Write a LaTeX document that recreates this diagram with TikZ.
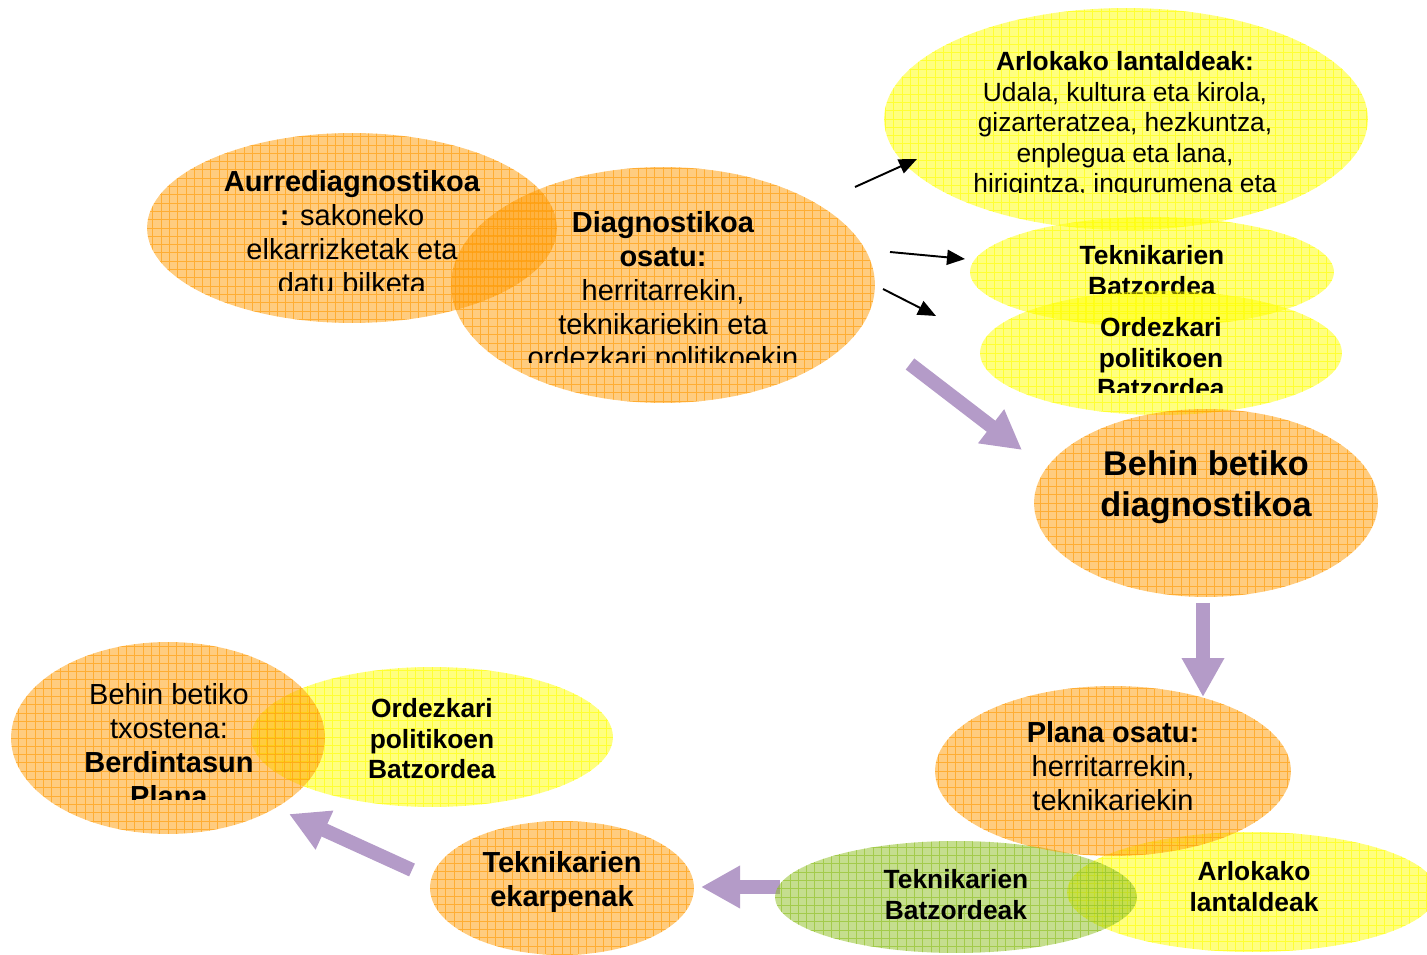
\documentclass[tikz,border=0pt]{standalone}
\usepackage{fontspec}
\setmainfont{Liberation Sans}
\usetikzlibrary{shapes.geometric,arrows.meta}

\definecolor{orgbase}{RGB}{255,153,0}
\definecolor{ylwbase}{RGB}{255,255,0}
\definecolor{grnbase}{RGB}{140,190,30}
\definecolor{lilac}{RGB}{180,155,200}

\tikzset{
  blob/.style={ellipse, draw=none, inner sep=0pt, fill=#1, fill opacity=0.5,
    path picture={\draw[#1, draw opacity=0.6, line width=0.5pt]
      (path picture bounding box.south west) grid[step=0.166cm]
      (path picture bounding box.north east);}},
  ellsize/.style 2 args={minimum width=#1*0.04cm, minimum height=#2*0.04cm},
  lbl/.style={align=center, inner sep=0pt, anchor=north, text=black},
  fbig/.style={font=\fontsize{16.5}{19.3}\selectfont},
  fmid/.style={font=\fontsize{15}{17.4}\selectfont},
  fhuge/.style={font=\bfseries\fontsize{19.5}{23.3}\selectfont},
  blackarrow/.style={line width=1.1pt, -{Triangle[length=0.36cm,width=0.3cm]}},
  bigarrow/.style={lilac, line width=0.28cm, -{Triangle[length=0.78cm,width=0.8cm]}}
}

\begin{document}
\begin{tikzpicture}[x=0.02cm, y=-0.02cm]
  \clip (0,0) rectangle (1427,955);

  % arrows ends
  \coordinate (k1a) at (855,187); \coordinate (k1b) at (917,159);
  \coordinate (k2a) at (890,252); \coordinate (k2b) at (965,259);
  \coordinate (k3a) at (883,289); \coordinate (k3b) at (936,316);
  \coordinate (m1a) at (910,364); \coordinate (m1b) at (1022,450);
  \coordinate (m2a) at (1203,603); \coordinate (m2b) at (1203,697);
  \coordinate (m3a) at (780,887); \coordinate (m3b) at (701,887);
  \coordinate (m4a) at (412,870); \coordinate (m4b) at (289,814);
  \draw[bigarrow] (m1a) -- (m1b);
  \draw[bigarrow] (m2a) -- (m2b);
  \draw[bigarrow] (m3a) -- (m3b);
  \draw[bigarrow] (m4a) -- (m4b);

  % diagnostikoa
  \node[blob=orgbase, ellsize={212}{118}] (diag) at (663,285) {};
  \begin{scope}
    \clip (440,0) rectangle (880,363);
    \node[lbl, fbig] (diag-t) at (663,211)
      {\textbf{Diagnostikoa}\\\textbf{osatu:}\\herritarrekin,\\teknikariekin eta\\ordezkari politikoekin};
  \end{scope}
  \node[blob=orgbase, ellsize={205}{95}] (aurre) at (352,228) {};
  \begin{scope}
    \clip (140,0) rectangle (570,291);
    \node[lbl, fbig] (aurre-t) at (352,170)
      {\textbf{Aurrediagnostikoa}\\\textbf{:} sakoneko\\elkarrizketak eta\\datu bilketa};
  \end{scope}

  % batzordeak
  \node[blob=ylwbase, ellsize={242}{111}] (arlo) at (1126,119) {};
  \begin{scope}
    \clip (880,0) rectangle (1380,193);
    \node[lbl, fmid] (arlo-t) at (1125,51)
      {\textbf{Arlokako lantaldeak:}\\Udala, kultura eta kirola,\\gizarteratzea, hezkuntza,\\enplegua eta lana,\\hirigintza, ingurumena eta};
  \end{scope}
  \node[blob=ylwbase, ellsize={182}{55}] (tekbatz) at (1152,272) {};
  \begin{scope}
    \clip (960,0) rectangle (1340,294);
    \node[lbl, fmid] (tekbatz-t) at (1152,245) {\textbf{Teknikarien}\\\textbf{Batzordea}};
  \end{scope}
  \node[blob=ylwbase, ellsize={181}{62}] (ordez) at (1161,353) {};
  \begin{scope}
    \clip (970,0) rectangle (1350,393);
    \node[lbl, fmid] (ordez-t) at (1161,317) {\textbf{Ordezkari}\\\textbf{politikoen}\\\textbf{Batzordea}};
  \end{scope}

  \draw[blackarrow] (k1a) -- (k1b);
  \draw[blackarrow] (k2a) -- (k2b);
  \draw[blackarrow] (k3a) -- (k3b);

  \node[blob=orgbase, ellsize={172}{94}] (behin) at (1206,503) {};
  \node[lbl, fhuge] (behin-t) at (1206,450) {Behin betiko\\diagnostikoa};

  % plana
  \node[blob=ylwbase, ellsize={185}{60}] (arlobot) at (1252,892) {};
  \node[lbl, fmid] (arlobot-t) at (1254,861) {\textbf{Arlokako}\\\textbf{lantaldeak}};
  \node[blob=grnbase, ellsize={181}{56}] (tekgreen) at (956,897) {};
  \node[lbl, fmid] (tekgreen-t) at (956,869) {\textbf{Teknikarien}\\\textbf{Batzordeak}};
  \node[blob=orgbase, ellsize={178}{85}] (plana) at (1113,771) {};
  \node[lbl, fbig] (plana-t) at (1113,721) {\textbf{Plana osatu:}\\herritarrekin,\\teknikariekin};

  \node[blob=orgbase, ellsize={132}{67}] (ekarp) at (562,888) {};
  \node[lbl, fbig] (ekarp-t) at (562,851) {\textbf{Teknikarien}\\\textbf{ekarpenak}};

  % txostena
  \node[blob=ylwbase, ellsize={181}{70}] (ordezbot) at (432,737) {};
  \node[lbl, fmid] (ordezbot-t) at (432,698) {\textbf{Ordezkari}\\\textbf{politikoen}\\\textbf{Batzordea}};
  \node[blob=orgbase, ellsize={157}{96}] (txosten) at (168,738) {};
  \begin{scope}
    \clip (0,0) rectangle (330,800);
    \node[lbl, fbig] (txosten-t) at (169,683) {Behin betiko\\txostena:\\\textbf{Berdintasun}\\\textbf{Plana}};
  \end{scope}
\end{tikzpicture}
\end{document}
